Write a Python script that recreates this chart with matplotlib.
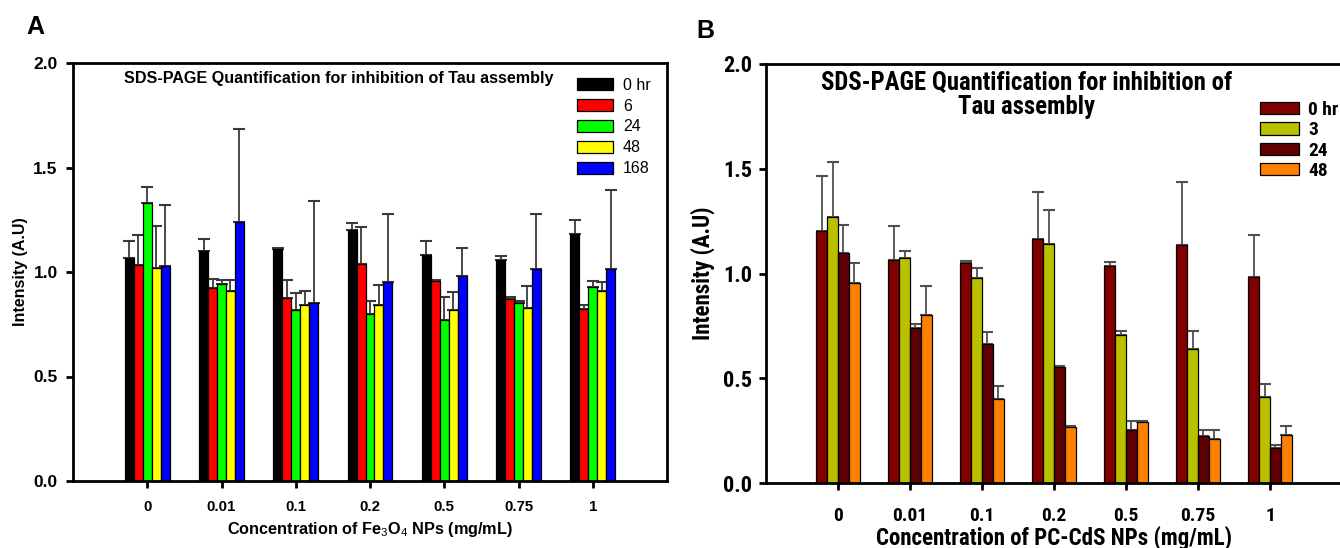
import matplotlib
matplotlib.use("Agg")
import matplotlib.pyplot as plt
import numpy as np
from matplotlib import font_manager
from matplotlib.patches import Patch

names = {f.name for f in font_manager.fontManager.ttflist}
REG = "Liberation Sans" if "Liberation Sans" in names else "DejaVu Sans"
NARROW = None
for cand in ["Liberation Sans Narrow", "Arial Narrow", "Roboto Condensed",
             "DejaVu Sans Condensed", "Open Sans Condensed", "Noto Sans Condensed"]:
    if cand in names:
        NARROW = cand
        break
HAVE_NARROW = NARROW is not None
if not HAVE_NARROW:
    NARROW = REG
plt.rcParams['font.family'] = [REG, 'DejaVu Sans']
plt.rcParams['mathtext.fontset'] = 'custom'
plt.rcParams['mathtext.rm'] = REG
plt.rcParams['mathtext.bf'] = REG + ':bold'

# ---------------- data ----------------
conc_labels = ["0", "0.01", "0.1", "0.2", "0.5", "0.75", "1"]

# Panel A (Fe3O4 NPs)
a_series = ["0 hr", "6", "24", "48", "168"]
a_0hr = [1.069, 1.101, 1.109, 1.202, 1.083, 1.059, 1.184]
a_6 = [1.032, 0.925, 0.875, 1.040, 0.955, 0.872, 0.824]
a_24 = [1.328, 0.944, 0.816, 0.798, 0.771, 0.854, 0.926]
a_48 = [1.021, 0.909, 0.842, 0.843, 0.819, 0.827, 0.907]
a_168 = [1.030, 1.237, 0.853, 0.952, 0.982, 1.016, 1.014]
a_err_0hr = [0.081, 0.056, 0.006, 0.032, 0.067, 0.016, 0.066]
a_err_6 = [0.147, 0.041, 0.087, 0.173, 0.005, 0.008, 0.016]
a_err_24 = [0.078, 0.016, 0.083, 0.064, 0.111, 0.008, 0.032]
a_err_48 = [0.197, 0.053, 0.067, 0.096, 0.087, 0.106, 0.043]
a_err_168 = [0.292, 0.445, 0.486, 0.325, 0.135, 0.262, 0.378]
a_colors = ["#000000", "#FF0000", "#00FF00", "#FFFF00", "#0000FF"]

# Panel B (PC-CdS NPs)
b_series = ["0 hr", "3", "24", "48"]
b_0hr = [1.202, 1.066, 1.052, 1.165, 1.037, 1.138, 0.985]
b_3 = [1.271, 1.074, 0.977, 1.143, 0.707, 0.638, 0.409]
b_24 = [1.097, 0.741, 0.664, 0.555, 0.251, 0.222, 0.169]
b_48 = [0.955, 0.803, 0.401, 0.265, 0.292, 0.209, 0.231]
b_err_0hr = [0.263, 0.163, 0.009, 0.225, 0.016, 0.300, 0.201]
b_err_3 = [0.261, 0.032, 0.049, 0.159, 0.019, 0.087, 0.062]
b_err_24 = [0.134, 0.016, 0.057, 0.003, 0.044, 0.030, 0.013]
b_err_48 = [0.095, 0.136, 0.062, 0.008, 0.005, 0.043, 0.042]
b_colors = ["#800000", "#B8C000", "#600000", "#FF8000"]

a_vals = [a_0hr, a_6, a_24, a_48, a_168]
a_errs = [a_err_0hr, a_err_6, a_err_24, a_err_48, a_err_168]
b_vals = [b_0hr, b_3, b_24, b_48]
b_errs = [b_err_0hr, b_err_3, b_err_24, b_err_48]

# font sizes for panel B (condensed if available)
k = 1.0 if HAVE_NARROW else 0.86
fsB_xtick = 14 * k
fsB_ytick = 16 * k
fsB_label = 16.5 * k
fsB_title = 17.8 * k
fsB_leg = 14 * k

fig = plt.figure(figsize=(13.4, 5.48), dpi=100)
axA = fig.add_axes([73/1340, 1-481/548, (667-73)/1340, (481-63)/548])
axB = fig.add_axes([766/1340, 1-483/548, (1342-766)/1340, (483-64)/548])


def draw(ax, vals, errs, colors, labels, width, capsize, ecolor):
    x = np.arange(len(conc_labels))
    n = len(vals)
    handles = []
    for i, (v, e, c, lab) in enumerate(zip(vals, errs, colors, labels)):
        pos = x + (i - (n - 1) / 2) * width
        ax.errorbar(pos, v, yerr=[np.zeros(len(e)), e], fmt='none',
                    ecolor=ecolor, elinewidth=1.3, capsize=capsize,
                    capthick=1.5, zorder=1)
        ax.bar(pos, v, width, color=c, edgecolor='black', linewidth=0.9,
               zorder=2, label=lab)
        handles.append(Patch(facecolor=c, edgecolor='black', linewidth=0.9, label=lab))
    ax.set_xlim(-1, 7)
    ax.set_ylim(0, 2.0)
    ax.set_xticks(x)
    ax.set_yticks([0, 0.5, 1.0, 1.5, 2.0])
    for s in ax.spines.values():
        s.set_linewidth(2)
    ax.tick_params(direction='out', length=5, width=2)
    return handles


ylabs = ["0.0", "0.5", "1.0", "1.5", "2.0"]

# ---------- Panel A ----------
hA = draw(axA, a_vals, a_errs, a_colors, a_series, 0.121, 4.2, '#3a3a3a')
axA.set_xticklabels(conc_labels, fontsize=10.8, fontweight='bold')
axA.set_yticklabels(ylabs, fontsize=12.5, fontweight='bold')
axA.tick_params(axis='x', pad=9)
axA.tick_params(axis='y', pad=6)
axA.set_xlabel(r"Concentration of Fe$_3$O$_4$ NPs (mg/mL)", fontsize=11.7,
               fontweight='bold', labelpad=4)
axA.set_ylabel("Intensity (A.U)", fontsize=11.5, fontweight='bold', labelpad=4)
axA.text(0.447, 0.963, "SDS-PAGE Quantification for inhibition of Tau assembly",
         transform=axA.transAxes, ha='center', va='center', fontsize=11.6,
         fontweight='bold')
axA.legend(handles=hA, loc='upper left', bbox_to_anchor=(0.848, 0.965),
           frameon=False, fontsize=11.5, handlelength=2.3, handleheight=0.75,
           labelspacing=0.37, handletextpad=0.6, borderaxespad=0, borderpad=0)
fig.text(26/1340, 1-27/548, "A", fontsize=18, fontweight='bold', va='center', ha='left')

# ---------- Panel B ----------
hB = draw(axB, b_vals, b_errs, b_colors, b_series, 0.15, 4.5, '#505050')
axB.spines['right'].set_visible(False)
axB.set_xticklabels(conc_labels, fontsize=fsB_xtick, fontweight='bold', family=[NARROW, REG])
axB.set_yticklabels(ylabs, fontsize=fsB_ytick, fontweight='bold', family=[NARROW, REG])
axB.tick_params(axis='x', pad=12)
axB.tick_params(axis='y', pad=5)
axB.set_xlabel("Concentration of PC-CdS NPs (mg/mL)", fontsize=fsB_label,
               fontweight='bold', family=[NARROW, REG], labelpad=1)
axB.set_ylabel("Intensity (A.U)", fontsize=fsB_label, fontweight='bold',
               family=[NARROW, REG], labelpad=6)
axB.text(0.452, 0.926, "SDS-PAGE Quantification for inhibition of\nTau assembly",
         transform=axB.transAxes, ha='center', va='center', fontsize=fsB_title,
         fontweight='bold', family=[NARROW, REG], linespacing=1.05)
axB.legend(handles=hB, loc='upper left', bbox_to_anchor=(0.857, 0.912),
           frameon=False, prop={'family': [NARROW, REG], 'weight': 'bold', 'size': fsB_leg},
           handlelength=2.0, handleheight=0.6, labelspacing=0.12, handletextpad=0.5,
           borderaxespad=0, borderpad=0)
fig.text(696/1340, 1-31/548, "B", fontsize=18, fontweight='bold', va='center', ha='left')

fig.savefig("out.png", dpi=100)
